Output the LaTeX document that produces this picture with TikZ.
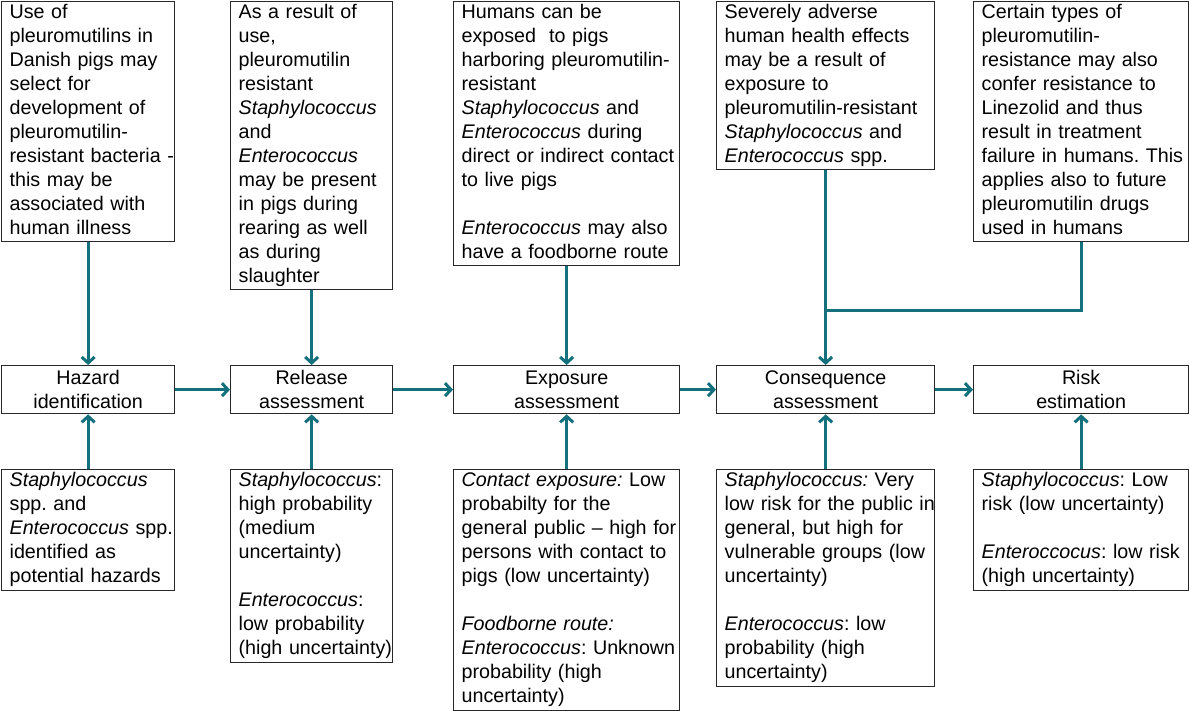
\documentclass[tikz,border=0pt]{standalone}
\usepackage{fontspec}
\setmainfont{Liberation Sans}
\usetikzlibrary{arrows.meta}
\frenchspacing
\newcommand{\boxlines}[1]{\begin{tabular}{@{}l@{}}#1\end{tabular}}

\begin{document}
\begin{tikzpicture}[x=1pt,y=-1pt]
    % colours used in the chart
    \definecolor{riskTeal}{RGB}{20,112,124}
    \definecolor{boxGrey}{RGB}{40,40,40}
    \tikzset{
      every node/.style={font=\fontsize{19.7}{24}\selectfont, text=black},
      txtbox/.style={draw=boxGrey, line width=1.3pt, anchor=north west, inner xsep=8pt, inner ysep=0pt},
      stagebox/.style={draw=boxGrey, line width=1.3pt, anchor=north west, align=center, inner xsep=2pt, inner ysep=0pt, minimum height=48pt},
      link/.style={draw=riskTeal, line width=3pt},
      arr/.style={link, -{Straight Barb[length=6pt,width=13pt]}}
    }
    \useasboundingbox (0,0) rectangle (1190,711);

    % top row: descriptions
    \node[txtbox, text width=157pt, minimum height=240pt] (useT) at (1,1)
      {\boxlines{Use of\\pleuromutilins in\\Danish pigs may\\select for\\development of\\pleuromutilin-\\resistant bacteria -\\this may be\\associated with\\human illness}};
    \node[txtbox, text width=146pt, minimum height=288pt] (releaseT) at (230,1)
      {\boxlines{As a result of\\use,\\pleuromutilin\\resistant\\\textit{Staphylococcus}\\and\\\textit{Enterococcus}\\may be present\\in pigs during\\rearing as well\\as during\\slaughter}};
    \node[txtbox, text width=210pt, minimum height=264pt] (exposeT) at (453,1)
      {\boxlines{Humans can be\\exposed\ \ to pigs\\harboring pleuromutilin-\\resistant\\\textit{Staphylococcus} and\\\textit{Enterococcus} during\\direct or indirect contact\\to live pigs\\[24pt]\textit{Enterococcus} may also\\have a foodborne route}};
    \node[txtbox, text width=202pt, minimum height=166pt] (effectT) at (716,1)
      {\boxlines{Severely adverse\\human health effects\\may be a result of\\exposure to\\pleuromutilin-resistant\\\textit{Staphylococcus} and\\\textit{Enterococcus} spp.}};
    \node[txtbox, text width=199pt, minimum height=240pt] (linezT) at (973,1)
      {\boxlines{Certain types of\\pleuromutilin-\\resistance may also\\confer resistance to\\Linezolid and thus\\result in treatment\\failure in humans. This\\applies also to future\\pleuromutilin drugs\\used in humans}};

    % middle row: stages
    \node[stagebox, minimum width=173pt] (hazard) at (1,365) {Hazard\\identification};
    \node[stagebox, minimum width=162pt] (release) at (230,365) {Release\\assessment};
    \node[stagebox, minimum width=226pt] (exposure) at (453,365) {Exposure\\assessment};
    \node[stagebox, minimum width=218pt] (conseq) at (716,365) {Consequence\\assessment};
    \node[stagebox, minimum width=215pt] (riskest) at (973,365) {Risk\\estimation};

    % bottom row: outcomes
    \node[txtbox, text width=157pt, minimum height=121pt] (hazardB) at (1,469)
      {\boxlines{\textit{Staphylococcus}\\spp. and\\\textit{Enterococcus} spp.\\identified as\\potential hazards}};
    \node[txtbox, text width=146pt, minimum height=193pt] (releaseB) at (230,469)
      {\boxlines{\textit{Staphylococcus}:\\high probability\\(medium\\uncertainty)\\[24pt]\textit{Enterococcus}:\\low probability\\(high uncertainty)}};
    \node[txtbox, text width=210pt, minimum height=241pt] (exposeB) at (453,469)
      {\boxlines{\textit{Contact exposure:} Low\\probabilty for the\\general public -- high for\\persons with contact to\\pigs (low uncertainty)\\[24pt]\textit{Foodborne route:}\\\textit{Enterococcus}: Unknown\\probability (high\\uncertainty)}};
    \node[txtbox, text width=202pt, minimum height=217pt] (conseqB) at (716,469)
      {\boxlines{\textit{Staphylococcus:} Very\\low risk for the public in\\general, but high for\\vulnerable groups (low\\uncertainty)\\[24pt]\textit{Enterococcus}: low\\probability (high\\uncertainty)}};
    \node[txtbox, text width=199pt, minimum height=121pt] (riskB) at (973,469)
      {\boxlines{\textit{Staphylococcus}: Low\\risk (low uncertainty)\\[24pt]\textit{Enteroccocus}: low risk\\(high uncertainty)}};

    % arrows from top row
    \draw[arr] (useT.south) -- (hazard.north);
    \draw[arr] (releaseT.south) -- (release.north);
    \draw[arr] (exposeT.south) -- (exposure.north);
    \draw[arr] (effectT.south) -- (conseq.north);
    \coordinate (merge) at (effectT.south |- 0,310);
    \draw[link] (linezT.south) |- (merge);

    % arrows along the stages
    \draw[arr] (hazard.east) -- (release.west);
    \draw[arr] (release.east) -- (exposure.west);
    \draw[arr] (exposure.east) -- (conseq.west);
    \draw[arr] (conseq.east) -- (riskest.west);

    % arrows from bottom row
    \draw[arr] (hazardB.north) -- (hazard.south);
    \draw[arr] (releaseB.north) -- (release.south);
    \draw[arr] (exposeB.north) -- (exposure.south);
    \draw[arr] (conseqB.north) -- (conseq.south);
    \draw[arr] (riskB.north) -- (riskest.south);

\end{tikzpicture}
\end{document}
